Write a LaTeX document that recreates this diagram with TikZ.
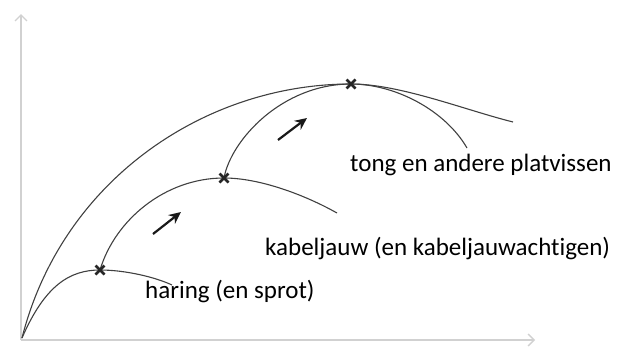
\documentclass[tikz,border=0pt]{standalone}
\usepackage{fontspec}
\setmainfont{Carlito}[Ligatures=CommonOff]
\usetikzlibrary{arrows.meta}
\begin{document}
\begin{tikzpicture}[x=1pt,y=-1pt,
  axis/.style={draw=black!18,line width=1.3pt,-{Straight Barb[length=6pt,width=12pt]}},
  curve/.style={draw=black!75,line width=1.1pt},
  growth/.style={draw=black!90,line width=2.2pt,-{Stealth[length=12pt,width=11pt]}},
  lbl/.style={font=\fontsize{25}{30}\selectfont,anchor=base west,inner sep=0pt},
  cross/.style={draw=black!85,line width=2.8pt}]
\useasboundingbox (0,0) rectangle (631,351);
\coordinate (O) at (21,340);
\coordinate (ytop) at (21,14);
\coordinate (xend) at (535,340);
\draw[axis] (O) -- (ytop);
\draw[axis] (O) -- (xend);
% marker points
\coordinate (s) at (22,338);
\coordinate (m1) at (100,270);
\coordinate (m2) at (224,178);
\coordinate (m3) at (351,84);
% outer envelope
\draw[curve] (s) .. controls (62,180) and (205,84) .. (m3)
  .. controls (400,84) and (465,110) .. (513,122);
% haring
\draw[curve] (s) .. controls (45,285) and (70,270) .. (m1)
  .. controls (125,270) and (155,277) .. (172,285);
% kabeljauw
\draw[curve] (m1) .. controls (115,220) and (165,178) .. (m2)
  .. controls (260,178) and (305,195) .. (337,213);
% tong
\draw[curve] (m2) .. controls (231,140) and (282,84) .. (m3)
  .. controls (395,84) and (445,110) .. (467,148);
% crosses
\foreach \m in {m1,m2,m3}{
  \draw[cross] ([shift={(-4.5,-4.5)}]\m) -- ([shift={(4.5,4.5)}]\m);
  \draw[cross] ([shift={(-4.5,4.5)}]\m) -- ([shift={(4.5,-4.5)}]\m);
}
% growth arrows
\coordinate (a1s) at (153,234);
\coordinate (a1e) at (181,212);
\coordinate (a2s) at (278,140);
\coordinate (a2e) at (307,118);
\draw[growth] (a1s) -- (a1e);
\draw[growth] (a2s) -- (a2e);
% labels
\node[lbl] (tong) at (350,171) {tong en andere platvissen};
\node[lbl] (kab) at (265,255) {kabeljauw (en kabeljauwachtigen)};
\node[lbl] (har) at (145,298) {haring (en sprot)};
\end{tikzpicture}
\end{document}
